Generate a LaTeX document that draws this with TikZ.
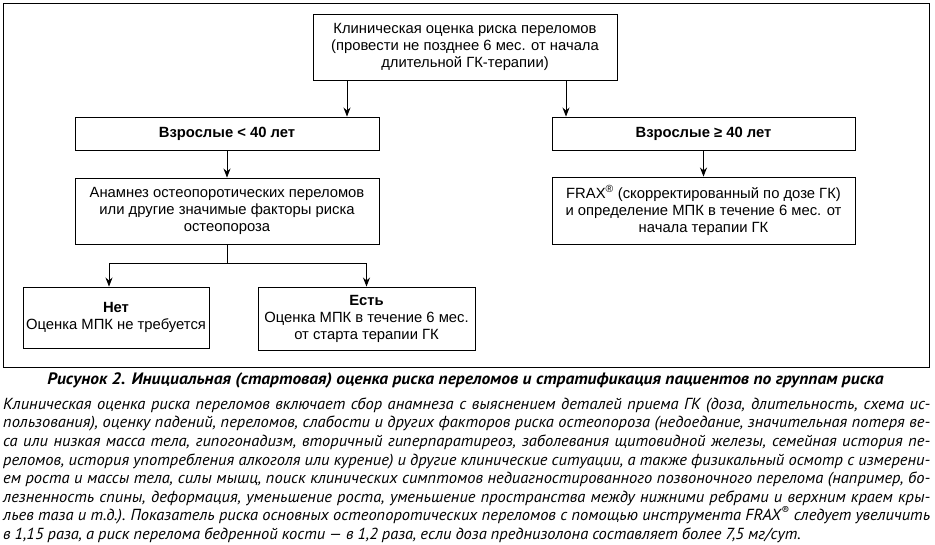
\documentclass[tikz,border=0pt]{standalone}
\usepackage{fontspec}
\setmainfont{Liberation Sans}
\newfontfamily\capfont[FakeStretch=1.03]{PT Sans}
\newfontfamily\capboldfont[FakeStretch=1.06]{PT Sans}
\usetikzlibrary{arrows.meta, positioning, calc}
\tikzset{
	flowbox/.style={draw, line width=0.9pt, align=center, inner sep=1pt, font=\fontsize{14.8}{17}\selectfont, minimum width=#1},
	flowarr/.style={-{Stealth[length=9pt, width=7pt]}, line width=0.9pt},
	flowline/.style={line width=0.9pt},
	captext/.style={font=\capboldfont\fontsize{16.5}{18.6}\selectfont\bfseries\itshape},
	desctext/.style={font=\capfont\fontsize{16}{18.6}\selectfont\itshape, text width=927pt, inner sep=0pt},
}
\newcommand{\jline}[1]{\hbox to927pt{\spaceskip=.25em plus 10em minus .12em\xspaceskip=.3em plus 10em minus .12em\relax #1}}

\begin{document}
\begin{tikzpicture}[x=1pt, y=-1pt]
				\useasboundingbox (0,0) rectangle (935,545);
				\draw[flowline] (3,3) rectangle (929,367);
				% boxes
				\node[flowbox=304pt, minimum height=66pt] (clin) at (465,47) {Клиническая оценка риска переломов\\(провести не позднее 6 мес. от начала\\длительной ГК-терапии)};
				\node[flowbox=304pt, minimum height=33pt, font=\fontsize{14.8}{17}\selectfont\bfseries] (young) at (227,133.5) {Взрослые < 40 лет};
				\node[flowbox=303pt, minimum height=33pt, font=\fontsize{14.8}{17}\selectfont\bfseries] (old) at (703.5,133.5) {Взрослые ≥ 40 лет};
				\node[flowbox=304pt, minimum height=66pt] (hist) at (227,211) {Анамнез остеопоротических переломов\\или другие значимые факторы риска\\остеопороза};
				\node[flowbox=303pt, minimum height=67pt] (frax) at (703.5,210.5) {FRAX\textsuperscript{\textregistered} (скорректированный по дозе ГК)\\и определение МПК в течение 6 мес. от\\начала терапии ГК};
				\node[flowbox=186pt, minimum height=61pt] (no) at (116,317.5) {\textbf{Нет}\\Оценка МПК не требуется};
				\node[flowbox=217pt, minimum height=63pt] (yes) at (366.5,318.5) {\textbf{Есть}\\Оценка МПК в течение 6 мес.\\от старта терапии ГК};
				% connectors
				\coordinate (lx) at (347,0);
				\coordinate (rx) at (566,0);
				\coordinate (nx) at (109,0);
				\coordinate (fork) at ($(hist.south)+(0,19)$);
				\draw[flowarr] (clin.south -| lx) -- (young.north -| lx);
				\draw[flowarr] (clin.south -| rx) -- (old.north -| rx);
				\draw[flowarr] (young) -- (hist);
				\draw[flowarr] (old) -- (frax);
				\draw[flowline] (hist.south) -- (fork);
				\draw[flowarr] (fork) -| (nx |- no.north);
				\draw[flowarr] (fork) -| (yes.north);
				% caption
				\node[captext] (cap) at (465.5,380) {Рисунок 2. Инициальная (стартовая) оценка риска переломов и стратификация пациентов по группам риска};
				\node[desctext, anchor=north west] (descr) at (3,397.5) {%
					\jline{Клиническая оценка риска переломов включает сбор анамнеза с выяснением деталей приема ГК (доза, длительность, схема ис-}
					\jline{пользования), оценку падений, переломов, слабости и других факторов риска остеопороза (недоедание, значительная потеря ве-}
					\jline{са или низкая масса тела, гипогонадизм, вторичный гиперпаратиреоз, заболевания щитовидной железы, семейная история пе-}
					\jline{реломов, история употребления алкоголя или курение) и другие клинические ситуации, а также физикальный осмотр с измерени-}
					\jline{ем роста и массы тела, силы мышц, поиск клинических симптомов недиагностированного позвоночного перелома (например, бо-}
					\jline{лезненность спины, деформация, уменьшение роста, уменьшение пространства между нижними ребрами и верхним краем кры-}
					\jline{льев таза и т.д.). Показатель риска основных остеопоротических переломов с помощью инструмента FRAX\textsuperscript{\textregistered} следует увеличить}
					\jline{в 1,15 раза, а риск перелома бедренной кости — в 1,2 раза, если доза преднизолона составляет более 7,5 мг/сут.\hfil}};
			\end{tikzpicture}
\end{document}
